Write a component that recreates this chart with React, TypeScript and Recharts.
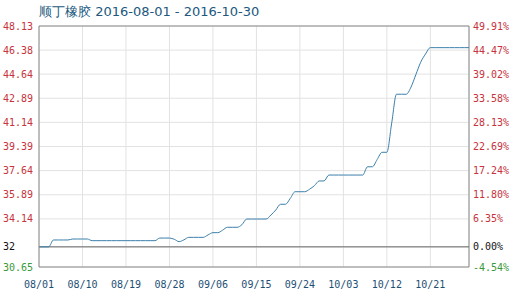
import React from "react";
import { LineChart, Line, XAxis, YAxis, CartesianGrid, ReferenceLine } from "recharts";

const title = "顺丁橡胶 2016-08-01 - 2016-10-30";

// daily prices from 08/01 (day 0) to 10/29 (day 89)
const prices: number[] = [
  32.11, 32.11, 32.11,
  32.61, 32.61, 32.61, 32.61,
  32.68, 32.68, 32.68, 32.68,
  32.56, 32.56, 32.56, 32.56, 32.56, 32.56, 32.56, 32.56, 32.56, 32.56, 32.56, 32.56, 32.56, 32.56,
  32.75, 32.75, 32.75,
  32.66, 32.49, 32.62,
  32.8, 32.8, 32.8, 32.8,
  32.98,
  33.14, 33.14,
  33.32,
  33.53, 33.53, 33.53,
  33.72,
  34.13, 34.13, 34.13, 34.13, 34.13,
  34.42, 34.78,
  35.2, 35.2,
  35.62,
  36.11, 36.11, 36.11,
  36.29, 36.55,
  36.89, 36.89,
  37.32, 37.32, 37.32, 37.32, 37.32, 37.32, 37.32, 37.32,
  37.92, 37.92,
  38.45,
  38.97, 38.97,
  41.09,
  43.18, 43.18, 43.18,
  43.7, 44.6, 45.5, 46.1,
  46.56, 46.56, 46.56, 46.56, 46.56, 46.56, 46.56, 46.56, 46.56,
];

const xTickDays: number[] = [0, 9, 18, 27, 36, 45, 54, 63, 72, 81];
const xTickLabels: string[] = ["08/01", "08/10", "08/19", "08/28", "09/06", "09/15", "09/24", "10/03", "10/12", "10/21"];

const basePrice = 32.11;
const yTicks: number[] = [30.65, 32.11, 34.14, 35.89, 37.64, 39.39, 41.14, 42.89, 44.64, 46.38, 48.13];
const leftTickLabels: string[] = ["30.65", "32", "34.14", "35.89", "37.64", "39.39", "41.14", "42.89", "44.64", "46.38", "48.13"];
const rightTickLabels: string[] = ["-4.54%", "0.00%", "6.35%", "11.80%", "17.24%", "22.69%", "28.13%", "33.58%", "39.02%", "44.47%", "49.91%"];

const data = prices.map((p, i) => ({ day: i, price: p }));

const MONO = "'DejaVu Sans Mono', 'Liberation Mono', monospace";
const RED = "#c8323c";
const GREEN = "#3a9a3a";
const BLUE_TXT = "#1d4f75";

const tickColor = (i: number) => (i === 0 ? GREEN : i === 1 ? "#111" : RED);

const findIdx = (v: number) => {
  let best = 0;
  let bd = Infinity;
  yTicks.forEach((t, i) => {
    const d = Math.abs(t - v);
    if (d < bd) { bd = d; best = i; }
  });
  return best;
};

const SideTicks = (props: any) => {
  const i = findIdx(props.payload.value);
  return (
    <g>
      <text x={3} y={props.y} dy={3.5} textAnchor="start" fontFamily={MONO} fontSize={10} fill={tickColor(i)}>
        {leftTickLabels[i]}
      </text>
      <text x={473} y={props.y} dy={3.5} textAnchor="start" fontFamily={MONO} fontSize={10} fill={tickColor(i)}>
        {rightTickLabels[i]}
      </text>
    </g>
  );
};

const BottomTick = (props: any) => {
  const i = xTickDays.indexOf(props.payload.value);
  return (
    <text x={props.x} y={288} textAnchor="middle" fontFamily={MONO} fontSize={10} fill={BLUE_TXT}>
      {xTickLabels[i] ?? ""}
    </text>
  );
};

export default function App() {
  return (
    <div style={{ position: "absolute", left: 0, top: 0, width: 517, height: 292, background: "#fff" }}>
      <div
        style={{
          position: "absolute",
          left: 39,
          top: 4,
          fontFamily: "'DejaVu Sans', Verdana, sans-serif",
          fontSize: 13,
          color: "#22587e",
          whiteSpace: "nowrap",
          lineHeight: "16px",
        }}
      >
        {title}
      </div>
      <LineChart width={517} height={292} data={data} margin={{ top: 26, right: 48, bottom: 0, left: 0 }}>
        <CartesianGrid stroke="#e2e2e2" strokeWidth={1} />
        <XAxis
          dataKey="day"
          type="number"
          domain={[0, 89]}
          ticks={xTickDays}
          interval={0}
          height={25}
          tickLine={false}
          axisLine={{ stroke: "#8a8a8a" }}
          tick={<BottomTick />}
        />
        <YAxis
          orientation="left"
          width={39}
          domain={[30.65, 48.13]}
          ticks={yTicks}
          interval={0}
          tickLine={false}
          axisLine={{ stroke: "#8a8a8a" }}
          tick={<SideTicks />}
        />
        <ReferenceLine y={48.13} stroke="#8a8a8a" />
        <ReferenceLine x={89} stroke="#8a8a8a" />
        <ReferenceLine y={basePrice} stroke="#666" />
        <Line
          type="monotone"
          dataKey="price"
          stroke="#3b7fab"
          strokeWidth={1}
          dot={false}
          isAnimationActive={false}
        />
      </LineChart>
    </div>
  );
}
